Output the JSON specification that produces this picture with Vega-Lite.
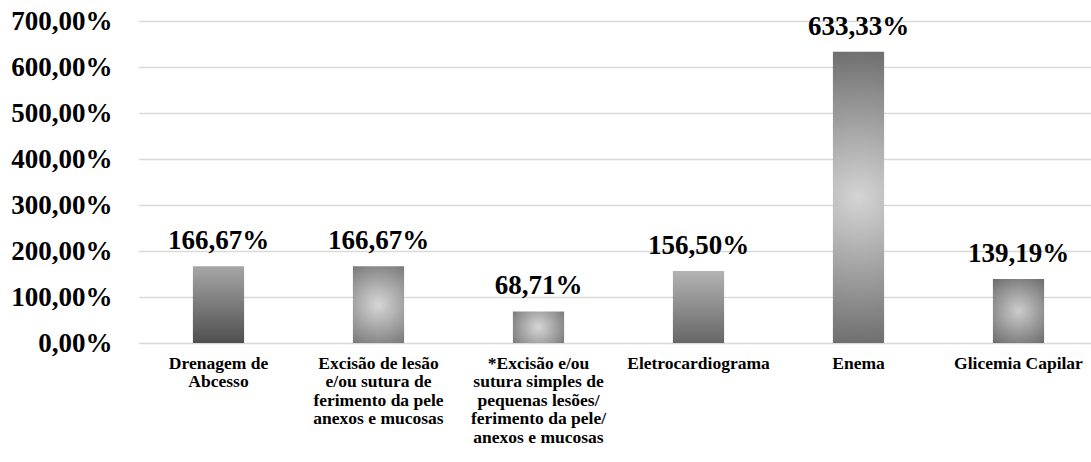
{
  "$schema": "https://vega.github.io/schema/vega-lite/v6.json",
  "autosize": {"type": "none"},
  "width": 952,
  "height": 322,
  "padding": {"left": 139, "top": 21, "right": 0, "bottom": 119},
  "background": "white",
  "config": {
    "view": {"stroke": null},
    "font": "Liberation Serif",
    "locale": {"number": {"decimal": ",", "thousands": ".", "grouping": [3], "currency": ["", " €"]}}
  },
  "data": {
    "values": [
      {"proc": "Drenagem de Abcesso", "pct": 1.6667},
      {"proc": "Excisão de lesão e/ou sutura de ferimento da pele anexos e mucosas", "pct": 1.6667},
      {"proc": "*Excisão e/ou sutura simples de pequenas lesões/ ferimento da pele/ anexos e mucosas", "pct": 0.6871},
      {"proc": "Eletrocardiograma", "pct": 1.565},
      {"proc": "Enema", "pct": 6.3333},
      {"proc": "Glicemia Capilar", "pct": 1.3919}
    ]
  },
  "encoding": {
    "x": {
      "field": "proc", "type": "nominal", "sort": null,
      "scale": {"paddingInner": 0.68, "paddingOuter": 0.34, "range": [-0.5, 959.5]},
      "axis": {
        "title": null, "domain": false, "ticks": false, "labelAngle": 0,
        "labelFont": "Liberation Serif", "labelFontWeight": "bold", "labelFontSize": 17.5,
        "labelColor": "#000000", "labelLineHeight": 18.5, "labelPadding": 11, "labelBaseline": "top",
        "labelLimit": 220, "labelOverlap": false,
        "labelExpr": "datum.label == 'Drenagem de Abcesso' ? ['Drenagem de', 'Abcesso'] : datum.label == 'Excisão de lesão e/ou sutura de ferimento da pele anexos e mucosas' ? ['Excisão de lesão', 'e/ou sutura de', 'ferimento da pele', 'anexos e mucosas'] : datum.label == '*Excisão e/ou sutura simples de pequenas lesões/ ferimento da pele/ anexos e mucosas' ? ['*Excisão e/ou', 'sutura simples de', 'pequenas lesões/', 'ferimento da pele/', 'anexos e mucosas'] : datum.label"
      }
    },
    "y": {
      "field": "pct", "type": "quantitative",
      "scale": {"domain": [0, 7], "nice": false},
      "axis": {
        "title": null, "domain": false, "ticks": false, "values": [0, 1, 2, 3, 4, 5, 6, 7],
        "format": ".2%", "grid": true, "gridColor": "#d9d9d9", "gridWidth": 1.5,
        "labelFont": "Liberation Serif", "labelFontWeight": "bold", "labelFontSize": 27,
        "labelColor": "#000000", "labelPadding": 27
      }
    }
  },
  "layer": [
    {
      "mark": {"type": "bar"},
      "encoding": {
        "color": {
          "condition": [
            {"test": "datum.proc == 'Drenagem de Abcesso'", "value": {"gradient": "linear", "x1": 0, "y1": 0, "x2": 0, "y2": 1, "stops": [{"offset": 0, "color": "#a6a6a6"}, {"offset": 1, "color": "#4f4f4f"}]}},
            {"test": "datum.proc == 'Eletrocardiograma'", "value": {"gradient": "linear", "x1": 0, "y1": 0, "x2": 0, "y2": 1, "stops": [{"offset": 0, "color": "#b3b3b3"}, {"offset": 1, "color": "#666666"}]}},
            {"test": "datum.proc == 'Enema'", "value": {"gradient": "radial", "x1": 0.5, "y1": 0.5, "r1": 0, "x2": 0.5, "y2": 0.5, "r2": 0.6, "stops": [{"offset": 0, "color": "#d4d4d4"}, {"offset": 1, "color": "#5c5c5c"}]}},
            {"test": "datum.proc == 'Glicemia Capilar'", "value": {"gradient": "radial", "x1": 0.5, "y1": 0.5, "r1": 0, "x2": 0.5, "y2": 0.5, "r2": 0.72, "stops": [{"offset": 0, "color": "#cccccc"}, {"offset": 1, "color": "#5f5f5f"}]}}
          ],
          "value": {"gradient": "radial", "x1": 0.5, "y1": 0.5, "r1": 0, "x2": 0.5, "y2": 0.5, "r2": 0.72, "stops": [{"offset": 0, "color": "#d6d6d6"}, {"offset": 1, "color": "#666666"}]}
        }
      }
    },
    {
      "mark": {"type": "text", "baseline": "alphabetic", "dy": -17, "font": "Liberation Serif", "fontWeight": "bold", "fontSize": 27, "color": "#000000"},
      "encoding": {
        "text": {"field": "pct", "type": "quantitative", "format": ".2%"}
      }
    }
  ]
}
